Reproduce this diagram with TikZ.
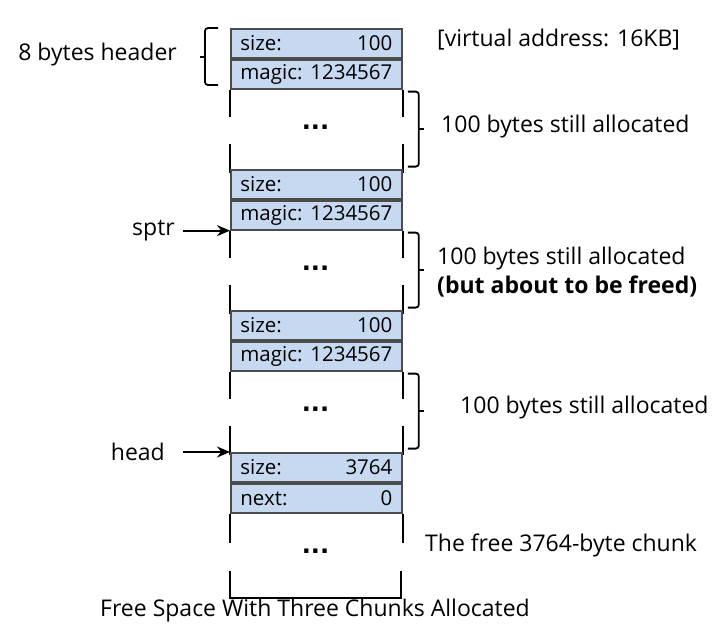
\documentclass[tikz,border=0pt]{standalone}
\usepackage{fontspec}
\setmainfont{Open Sans}
\newfontfamily\dotfont{DejaVu Sans}
\usetikzlibrary{positioning,arrows.meta}
\definecolor{cellblue}{RGB}{198,217,241}

\begin{document}
\begin{tikzpicture}[x=1pt,y=-1pt,node distance=0pt,
    every node/.style={font=\fontsize{23}{27}\selectfont},
    cell/.style={draw=black!70,line width=1.8pt,fill=cellblue,minimum width=171pt,
      minimum height=29pt,text width=152pt,inner sep=0pt,align=left,
      font=\fontsize{20.5}{24}\selectfont},
    dots/.style={font=\fontsize{24}{24}\dotfont\bfseries,inner sep=0pt},
    lbl/.style={inner sep=0pt},
    wall/.style={line width=1.8pt},
    brace/.style={line width=1.8pt,rounded corners=3pt},
    ptr/.style={line width=2pt,-{Stealth[length=13pt,width=11pt]}}]
  \useasboundingbox (0,0) rectangle (725,640);
  % three chunks still in use
  \foreach \i/\y in {1/28,2/169,3/310}{
    \node[cell,anchor=north west] (size\i) at (230,\y) {size:\hfill 100};
    \node[cell,below=of size\i] (magic\i) {magic:\hfill 1234567};
    \node[dots] (dots\i) at (315.5,\y+99) {...};
    \draw[wall] (magic\i.south west) -- ++(0,27) ++(0,27) -- ++(0,29);
    \draw[wall] (magic\i.south east) -- ++(0,27) ++(0,27) -- ++(0,29);
    \draw[brace] (magic\i.south east) ++(5,2) -- ++(11,0) -- ++(0,75) -- ++(-11,0);
    \draw[brace] (magic\i.south east) ++(16,39) -- ++(5,0);
  }
  % the free chunk
  \node[cell,anchor=north west] (size4) at (230,452) {size:\hfill 3764};
  \node[cell,below=of size4] (next4) {next:\hfill 0};
  \node[dots] (dots4) at (315.5,551) {...};
  \draw[wall] (next4.south west) -- ++(0,29);
  \draw[wall] (next4.south east) -- ++(0,29);
  \draw[wall] (next4.south west) ++(0,57) -- ++(0,27) -- ++(171,0) -- ++(0,-27);

  % header brace
  \draw[brace] (size1.north west) ++(-12,0) -- ++(-13,0) -- ++(0,57) -- ++(13,0);
  \draw[brace] (size1.north west) ++(-25,29) -- ++(-5,0);

  \node[lbl,anchor=east] (hdr) at (177,55) {8 bytes header};
  \node[lbl,anchor=west] (vaddr) at (437,40) {[virtual address: 16KB]};
  \node[lbl,anchor=west] (used1) at (441,127) {100 bytes still allocated};
  \node[lbl,anchor=west] (used2) at (437,259) {100 bytes still allocated};
  \node[lbl,anchor=west,font=\fontsize{23}{27}\selectfont\bfseries] (freed) at (437,287) {(but about to be freed)};
  \node[lbl,anchor=west] (used3) at (460,408) {100 bytes still allocated};
  \node[lbl,anchor=west] (freechunk) at (425,545) {The free 3764-byte chunk};
  \node[lbl] (caption) at (315,611) {Free Space With Three Chunks Allocated};

  % pointers
  \node[lbl,left=55pt of magic2.south west] (sptr) {sptr};
  \node[lbl,left=65pt of size4.north west] (head) {head};
  \draw[ptr] ([xshift=8pt]sptr.east) -- (magic2.south west);
  \draw[ptr] ([xshift=18pt]head.east) -- (size4.north west);
\end{tikzpicture}
\end{document}
